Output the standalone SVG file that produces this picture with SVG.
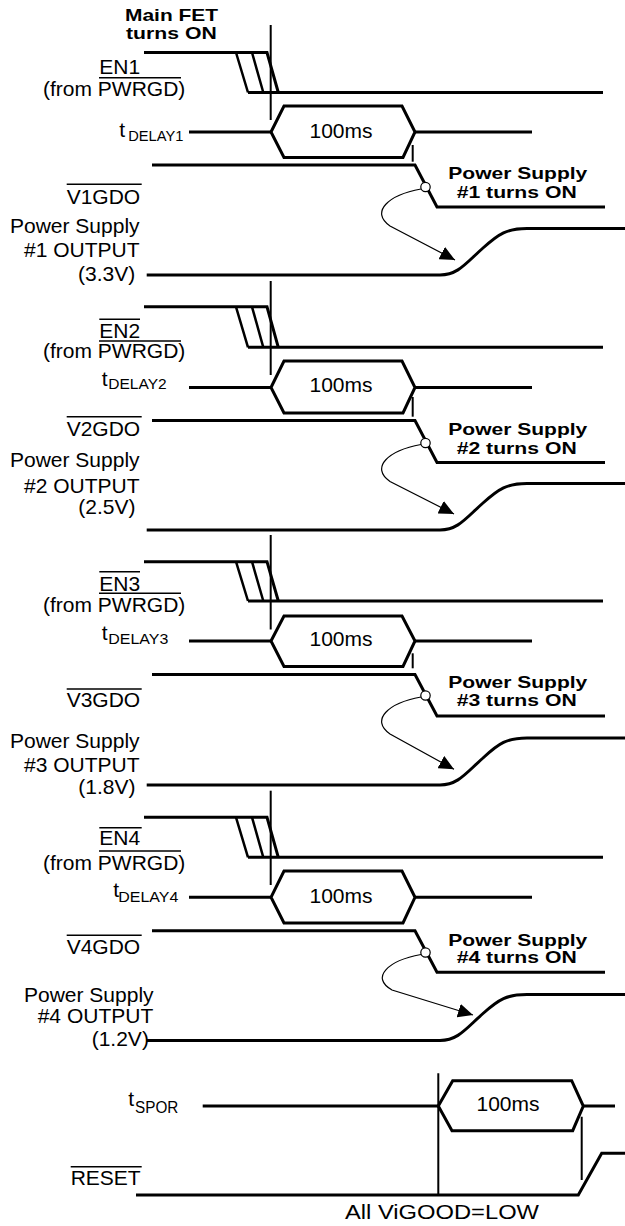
<svg xmlns="http://www.w3.org/2000/svg" width="625" height="1226" viewBox="0 0 625 1226">
<defs>
<style>
.sig{fill:none;stroke:#000;stroke-width:3;stroke-linejoin:miter}
.hex{fill:none;stroke:#000;stroke-width:3;stroke-linejoin:miter}
.sl{fill:none;stroke:#000;stroke-width:2.5}
.vl{fill:none;stroke:#000;stroke-width:2}
.bar{stroke:#000;stroke-width:1.5}
.t{font-family:"Liberation Sans",Arial,sans-serif;font-size:21px;fill:#000}
.sub{font-size:14.5px}
.b{font-weight:bold;font-size:17px}
.arr{fill:none;stroke:#000;stroke-width:1.2;marker-end:url(#ah)}
.dot{fill:#fff;stroke:#000;stroke-width:1.2}
</style>
<marker id="ah" markerWidth="16" markerHeight="14" refX="15" refY="7" orient="auto" markerUnits="userSpaceOnUse">
<path d="M0,0 L15,7 L0,14 z" fill="#000"/>
</marker>
</defs>
<rect width="625" height="1226" fill="#fff"/>

<!-- Section 1 -->
<g id="sec1">
<text class="t b" x="125" y="21" textLength="93" lengthAdjust="spacingAndGlyphs">Main FET</text>
<text class="t b" x="126" y="39.3" textLength="90.7" lengthAdjust="spacingAndGlyphs">turns ON</text>
<path class="vl" d="M270.7,25 V120"/>
<g id="en1">
<text class="t" x="99.3" y="74">EN1</text>
<text class="t" x="43" y="96">(from PWRGD)</text>
<line class="bar" x1="99" y1="77.7" x2="181" y2="77.7"/>
<path class="sig" d="M144,52.5 H267 L278.3,92.5"/>
<path class="sl" d="M236,52.5 L248,92.5 M252,52.5 L263.3,92.5"/>
<path class="sig" d="M248,92.5 H603"/>
</g>
<g id="tdelay1">
<text class="t" x="119.3" y="136.7">t</text>
<text class="t sub" x="128.3" y="140.7" textLength="55" lengthAdjust="spacingAndGlyphs">DELAY1</text>
<path class="sig" d="M189,132 H271 M415,132 H532"/>
<polygon class="hex" points="271,132 284,106 402,106 415,132 403,157.5 284,157.5"/>
<text class="t" x="341" y="138.3" text-anchor="middle">100ms</text>
<path class="vl" d="M412.7,145 V161.7"/>
</g>
<g id="v1gdo">
<text class="t" x="66.7" y="204">V1GDO</text>
<line class="bar" x1="66.7" y1="184.3" x2="141.7" y2="184.3"/>
<path class="sig" d="M152,165 H415 L437,207 H605"/>
<text class="t b" x="448.3" y="179.3" textLength="139" lengthAdjust="spacingAndGlyphs">Power Supply</text>
<text class="t b" x="456.7" y="198.3" textLength="120" lengthAdjust="spacingAndGlyphs">#1 turns ON</text>
</g>
<g id="out1">
<text class="t" x="10" y="232.7">Power Supply</text>
<text class="t" x="24" y="257.3">#1 OUTPUT</text>
<text class="t" x="78" y="281">(3.3V)</text>
<path class="sig" d="M146.7,275 H440 C458,275 466,263 483,248 C499,233.5 507,228.5 527,228.5 H625"/>
</g>
</g>

<!-- Section 2 -->
<g id="sec2">
<path class="vl" d="M270.7,281 V375"/>
<g id="en2">
<text class="t" x="99.3" y="338.3">EN2</text>
<line class="bar" x1="99.3" y1="319.3" x2="140" y2="319.3"/>
<text class="t" x="43" y="358.3">(from PWRGD)</text>
<line class="bar" x1="99" y1="341" x2="181" y2="341"/>
<path class="sig" d="M144,306.8 H267 L278.3,347.3"/>
<path class="sl" d="M236,306.8 L248,347.3 M252,306.8 L263.3,347.3"/>
<path class="sig" d="M248,347.3 H603"/>
</g>
<g id="tdelay2">
<text class="t" x="101.7" y="385.5">t</text>
<text class="t sub" x="108.3" y="389" textLength="58.4" lengthAdjust="spacingAndGlyphs">DELAY2</text>
<path class="sig" d="M189,387.5 H271 M415,387.5 H532"/>
<polygon class="hex" points="271,387.5 284,361 402,361 415,387.5 403,413 284,413"/>
<text class="t" x="341" y="391.7" text-anchor="middle">100ms</text>
<path class="vl" d="M412.7,397 V416.7"/>
</g>
<g id="v2gdo">
<text class="t" x="66.7" y="435.7">V2GDO</text>
<line class="bar" x1="66.7" y1="416.7" x2="141.7" y2="416.7"/>
<path class="sig" d="M152,420.5 H415 L437,462.5 H605"/>
<text class="t b" x="448.3" y="435" textLength="139" lengthAdjust="spacingAndGlyphs">Power Supply</text>
<text class="t b" x="456.7" y="454" textLength="120" lengthAdjust="spacingAndGlyphs">#2 turns ON</text>
</g>
<g id="out2">
<text class="t" x="10" y="466.7">Power Supply</text>
<text class="t" x="24" y="493.3">#2 OUTPUT</text>
<text class="t" x="78.3" y="514">(2.5V)</text>
<path class="sig" d="M146.7,530 H440 C458,530 466,518 483,503 C499,488.5 507,483.5 527,483.5 H625"/>
</g>
</g>

<!-- Section 3 -->
<g id="sec3">
<path class="vl" d="M270.7,535 V629.5"/>
<g id="en3">
<text class="t" x="99.3" y="590.7">EN3</text>
<line class="bar" x1="99.3" y1="571.7" x2="140" y2="571.7"/>
<text class="t" x="43" y="611.7">(from PWRGD)</text>
<line class="bar" x1="99" y1="593.3" x2="181" y2="593.3"/>
<path class="sig" d="M144,561.7 H267 L278.3,601"/>
<path class="sl" d="M236,561.7 L248,601 M252,561.7 L263.3,601"/>
<path class="sig" d="M248,601 H603"/>
</g>
<g id="tdelay3">
<text class="t" x="101.7" y="640">t</text>
<text class="t sub" x="108.3" y="644" textLength="60" lengthAdjust="spacingAndGlyphs">DELAY3</text>
<path class="sig" d="M189,641 H271 M415,641 H532"/>
<polygon class="hex" points="271,641 284,616 402,616 415,641 403,666.5 284,666.5"/>
<text class="t" x="341" y="646" text-anchor="middle">100ms</text>
<path class="vl" d="M412.7,653.3 V668.3"/>
</g>
<g id="v3gdo">
<text class="t" x="66.7" y="706.7">V3GDO</text>
<line class="bar" x1="66.7" y1="689" x2="141.7" y2="689"/>
<path class="sig" d="M152,674.5 H415 L437,716 H605"/>
<text class="t b" x="448.3" y="687.7" textLength="139" lengthAdjust="spacingAndGlyphs">Power Supply</text>
<text class="t b" x="456.7" y="705.7" textLength="120" lengthAdjust="spacingAndGlyphs">#3 turns ON</text>
</g>
<g id="out3">
<text class="t" x="10" y="748.3">Power Supply</text>
<text class="t" x="24" y="771.7">#3 OUTPUT</text>
<text class="t" x="78.3" y="794">(1.8V)</text>
<path class="sig" d="M146.7,785 H440 C458,785 466,773 483,758 C499,743 507,738 527,738 H625"/>
</g>
</g>

<!-- Section 4 -->
<g id="sec4">
<path class="vl" d="M270.7,790.7 V885"/>
<g id="en4">
<text class="t" x="99.3" y="845">EN4</text>
<line class="bar" x1="99.3" y1="827.7" x2="141.7" y2="827.7"/>
<text class="t" x="43" y="870">(from PWRGD)</text>
<line class="bar" x1="99" y1="851" x2="181" y2="851"/>
<path class="sig" d="M144,817.3 H267 L278.3,857.3"/>
<path class="sl" d="M236,817.3 L248,857.3 M252,817.3 L263.3,857.3"/>
<path class="sig" d="M248,857.3 H603"/>
</g>
<g id="tdelay4">
<text class="t" x="113.3" y="896.7">t</text>
<text class="t sub" x="118.3" y="901.7" textLength="60" lengthAdjust="spacingAndGlyphs">DELAY4</text>
<path class="sig" d="M189,897.3 H271 M415,897.3 H532"/>
<polygon class="hex" points="271,897.3 284,871 402,871 415,897.3 403,923 284,923"/>
<text class="t" x="341" y="902.7" text-anchor="middle">100ms</text>
</g>
<g id="v4gdo">
<text class="t" x="66.7" y="954">V4GDO</text>
<line class="bar" x1="66.7" y1="935.3" x2="141.7" y2="935.3"/>
<path class="sig" d="M152,930.7 H415 L437,972.3 H605"/>
<text class="t b" x="448.3" y="946" textLength="139" lengthAdjust="spacingAndGlyphs">Power Supply</text>
<text class="t b" x="456.7" y="963.3" textLength="120" lengthAdjust="spacingAndGlyphs">#4 turns ON</text>
</g>
<g id="out4">
<text class="t" x="24" y="1001.7">Power Supply</text>
<text class="t" x="37.7" y="1023.3">#4 OUTPUT</text>
<text class="t" x="91.7" y="1046">(1.2V)</text>
<path class="sig" d="M146.7,1040.5 H440 C458,1040.5 466,1028.5 483,1013.5 C499,999 507,994.5 527,994.5 H625"/>
</g>
</g>

<!-- SPOR / RESET -->
<g id="tspor">
<text class="t" x="128.3" y="1106">t</text>
<text class="t" x="135" y="1112.7" font-size="16" textLength="43.3" lengthAdjust="spacingAndGlyphs" style="font-size:16px">SPOR</text>
<path class="sig" d="M202.7,1106 H438.3 M583.3,1106 H615"/>
<polygon class="hex" points="438.3,1106 452.7,1080.7 571.7,1080.7 583.3,1106 572.7,1130.7 452,1130.7"/>
<text class="t" x="508" y="1110.7" text-anchor="middle">100ms</text>
<path class="vl" d="M438.3,1073.3 V1195 M581.7,1116.7 V1180"/>
</g>
<g id="reset">
<text class="t" x="70.7" y="1185">RESET</text>
<line class="bar" x1="70.7" y1="1166.7" x2="141.7" y2="1166.7"/>
<path class="sig" d="M136,1195 H578.3 L601.7,1153.3 H625"/>
<text class="t" x="345" y="1219.3" textLength="194" lengthAdjust="spacingAndGlyphs">All ViGOOD=LOW</text>
</g>

<!-- connectors -->
<g id="connectors">
<path class="arr" d="M421,189 C388,195 370,212 390,226 L455,260"/>
<circle class="dot" cx="425.5" cy="187" r="4.7"/>
<path class="arr" d="M421,444.5 C388,450.5 370,467.5 390,481.5 L454,514"/>
<circle class="dot" cx="425.5" cy="443" r="4.7"/>
<path class="arr" d="M421,697 C388,703 370,720 390,734 L454,769.3"/>
<circle class="dot" cx="425.5" cy="695.5" r="4.7"/>
<path class="arr" d="M421,954.5 C388,960.5 370,977.5 392,990 L473,1015"/>
<circle class="dot" cx="425.5" cy="952.5" r="4.7"/>
</g>
</svg>
